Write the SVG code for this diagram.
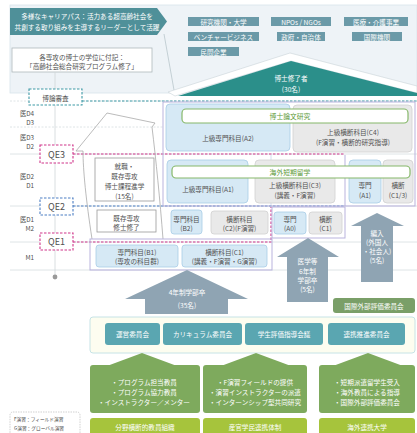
<svg xmlns="http://www.w3.org/2000/svg" width="417" height="433" viewBox="0 0 417 433">
<style>
text{font-family:"Noto Sans CJK JP","Noto Sans",sans-serif;text-anchor:middle;dominant-baseline:central;fill:#505050;font-size:6.6px}
.w{fill:#fff}
.lbl{fill:#6b9aa8}
.lb{fill:#d6e9f5;stroke:#a8cde6;stroke-width:0.8}
.gr{fill:#e9e9e9;stroke:#d0d0d0;stroke-width:0.8}
.pu{fill:none;stroke:#b9b3dd;stroke-width:1}
.pill{fill:#fff;stroke:#86b86a;stroke-width:1.2}
.pt{fill:#5e9a3a;font-size:6.8px}
.gline{stroke:#d6dde0;stroke-width:0.8;fill:none}
.uarr{fill:#8fa4b3}
.cm{fill:#5aa6b1}
.ga{fill:#7eaa5d}
.gb{fill:#a6c43c}
.lv{text-anchor:end;font-size:6.3px}
.qe{fill:#fff;stroke-width:1.1;stroke-dasharray:2.5 1.5}
.q{font-size:9px}
.leg{text-anchor:start;font-size:4.7px;fill:#444}
</style>

<g id="top-panel">
  <rect x="10" y="5" width="407" height="88" fill="#eef3f7" stroke="#d8e4ea" stroke-width="0.8"/>
  <line x1="164" y1="34" x2="174" y2="90" stroke="#b9c6cc" stroke-width="0.8"/>
</g>

<g id="banner">
  <polygon points="10,8 157,8 167,21.5 157,35 10,35" fill="#4f9099"/>
  <text class="w" x="87" y="16" font-size="6.8">多様なキャリアパス：活力ある超高齢社会を</text>
  <text class="w" x="87" y="27" font-size="6.8">共創する取り組みを主導するリーダーとして活躍</text>
</g>

<g id="careers">
  <rect class="lbl" x="188" y="17" width="71" height="9"/>
  <text class="w" x="223.5" y="21.5" font-size="6">研究機関・大学</text>
  <rect class="lbl" x="271" y="17" width="60" height="9"/>
  <text class="w" x="301" y="21.5" font-size="6">NPOs / NGOs</text>
  <rect class="lbl" x="344" y="17" width="64" height="9"/>
  <text class="w" x="376" y="21.5" font-size="6">医療・介護事業</text>
  <rect class="lbl" x="188" y="32" width="71" height="9"/>
  <text class="w" x="223.5" y="36.5" font-size="6">ベンチャービジネス</text>
  <rect class="lbl" x="277" y="32" width="48" height="9"/>
  <text class="w" x="301" y="36.5" font-size="6">政府・自治体</text>
  <rect class="lbl" x="352" y="32" width="50" height="9"/>
  <text class="w" x="377" y="36.5" font-size="6">国際機関</text>
  <rect class="lbl" x="188" y="47" width="51" height="9"/>
  <text class="w" x="213.5" y="51.5" font-size="6">民間企業</text>
</g>

<g id="roof">
  <polygon points="168,92 290,53 417,86 417,93 291,61 175,96" fill="#fff" stroke="#c9d3d8" stroke-width="0.6"/>
  <polygon points="178,96 291,61 417,93 417,96" fill="#2b8f8a"/>
  <text class="w" x="291" y="78" font-size="7">博士修了者</text>
  <text class="w" x="291" y="89" font-size="7">(30名)</text>
</g>

<g id="degree-note">
  <rect x="12" y="48" width="140" height="24" fill="#fff" stroke="#aeb8bc" stroke-width="0.8"/>
  <text x="82" y="56.5" fill="#3b7f86" font-size="7">各専攻の博士の学位に付記：</text>
  <text x="82" y="66" fill="#3b7f86" font-size="7">「高齢社会総合研究プログラム修了」</text>
</g>

<g id="grid-lines">
  <line class="gline" x1="10" y1="101" x2="417" y2="101" stroke-dasharray="2 1.5"/>
  <line class="gline" x1="10" y1="127" x2="163" y2="127" stroke-dasharray="2 1.5"/>
  <line class="gline" x1="10" y1="154" x2="417" y2="154"/>
  <line class="gline" x1="10" y1="206" x2="417" y2="206"/>
  <line class="gline" x1="10" y1="242" x2="417" y2="242"/>
  <line class="gline" x1="10" y1="270" x2="417" y2="270"/>
  <line x1="55" y1="72" x2="55" y2="277" stroke="#cfd5d8" stroke-width="0.8"/>
  <circle cx="55" cy="277" r="2.4" fill="#9a9a9a"/>
</g>

<g id="levels">
  <text class="lv" x="34" y="113">医D4</text>
  <text class="lv" x="34" y="122">D3</text>
  <text class="lv" x="34" y="137">医D3</text>
  <text class="lv" x="34" y="146">D2</text>
  <text class="lv" x="34" y="176">医D2</text>
  <text class="lv" x="34" y="185">D1</text>
  <text class="lv" x="34" y="219">医D1</text>
  <text class="lv" x="34" y="228">M2</text>
  <text class="lv" x="34" y="257">M1</text>
</g>

<g id="connectors">
  <line x1="82" y1="101" x2="417" y2="101" stroke="#3f9aa6" stroke-width="1" stroke-dasharray="2.5 1.5"/>
  <line x1="73" y1="154" x2="345" y2="154" stroke="#d0358a" stroke-width="1.1" stroke-dasharray="2.5 1.5"/>
  <line x1="73" y1="206" x2="345" y2="206" stroke="#4d7fc4" stroke-width="1.1" stroke-dasharray="2.5 1.5"/>
  <polyline points="73,242 271,242 271,207" fill="none" stroke="#d0358a" stroke-width="1.1" stroke-dasharray="2.5 1.5"/>
  <line x1="271" y1="155" x2="271" y2="205" stroke="#c9d6ec" stroke-width="0.8"/>
  <path d="M 92 239 C 86 200 83 170 83 151 L 76 151 L 107 113 L 155 123 L 152 127 C 156 160 160 200 163 239" fill="none" stroke="#a9a9a9" stroke-width="0.8"/>
</g>

<g id="review">
  <rect x="29" y="89" width="53" height="16" fill="#fff" stroke="#3f9aa6" stroke-width="1.1" stroke-dasharray="2.5 1.5"/>
  <text x="55.5" y="97.5" fill="#3f9aa6" font-size="7.5">博論審査</text>
</g>
<g id="qe3">
  <rect class="qe" x="40" y="145" width="33" height="18" stroke="#d0358a"/>
  <text class="q" x="56.5" y="154" fill="#d0358a">QE3</text>
</g>
<g id="qe2">
  <rect class="qe" x="40" y="198" width="33" height="17" stroke="#4d7fc4"/>
  <text class="q" x="56.5" y="206.5" fill="#4d7fc4">QE2</text>
</g>
<g id="qe1">
  <rect class="qe" x="40" y="233" width="33" height="17" stroke="#d0358a"/>
  <text class="q" x="56.5" y="241.5" fill="#d0358a">QE1</text>
</g>

<g id="doctoral-frame">
  <rect class="pu" x="163" y="102" width="252" height="104"/>
  <line x1="345" y1="155" x2="345" y2="206" stroke="#b9b3dd" stroke-width="1"/>
</g>

<g id="a2">
  <rect class="lb" x="166" y="104" width="124" height="47" rx="4"/>
  <text x="228" y="138">上級専門科目(A2)</text>
</g>
<g id="c4">
  <rect class="gr" x="293" y="105" width="119" height="47" rx="4"/>
  <text x="353" y="132">上級横断科目(C4)</text>
  <text x="353" y="142">(F演習・横断的研究指導)</text>
</g>
<g id="thesis">
  <rect class="pill" x="182" y="109" width="226" height="14" rx="4"/>
  <text class="pt" x="290" y="116">博士論文研究</text>
</g>

<g id="a1">
  <rect class="lb" x="167" y="160" width="81" height="43" rx="4"/>
  <text x="208" y="189">上級専門科目(A1)</text>
</g>
<g id="c3">
  <rect class="gr" x="255" y="160" width="80" height="43" rx="4"/>
  <text x="295" y="184.5">上級横断科目(C3)</text>
  <text x="295" y="194.5">(講義・F演習)</text>
</g>
<g id="transfer-a1">
  <rect class="lb" x="349" y="160" width="32" height="43" rx="4"/>
  <text x="365" y="185">専門</text>
  <text x="365" y="195">(A1)</text>
</g>
<g id="transfer-c13">
  <rect class="gr" x="383" y="160" width="30" height="43" rx="4"/>
  <text x="398" y="185">横断</text>
  <text x="398" y="195">(C1/3)</text>
</g>
<g id="abroad">
  <rect class="pill" x="172" y="166" width="238" height="12" rx="4"/>
  <text class="pt" x="290" y="172">海外短期留学</text>
</g>

<g id="employment">
  <rect x="95" y="158" width="59" height="43" fill="#fff" stroke="#9a9a9a" stroke-width="0.8"/>
  <text x="124.5" y="166">就職・</text>
  <text x="124.5" y="176">既存専攻</text>
  <text x="124.5" y="186">博士課程進学</text>
  <text x="124.5" y="195.5">(15名)</text>
</g>
<g id="master-done">
  <rect x="97" y="210" width="59" height="22" fill="#fff" stroke="#9a9a9a" stroke-width="0.8"/>
  <text x="126.5" y="217.5">既存専攻</text>
  <text x="126.5" y="227">修士修了</text>
</g>

<g id="b2">
  <rect class="lb" x="171" y="210" width="31" height="24" rx="3"/>
  <text x="186.5" y="218.5">専門科目</text>
  <text x="186.5" y="228">(B2)</text>
</g>
<g id="c2">
  <rect class="gr" x="211" y="211" width="57" height="23" rx="3"/>
  <text x="239.5" y="218.5">横断科目</text>
  <text x="239.5" y="228">(C2)(F演習)</text>
</g>

<g id="med-frame">
  <rect class="pu" x="272" y="207" width="73" height="31"/>
</g>
<g id="a0">
  <rect class="lb" x="274" y="212" width="32" height="22" rx="3"/>
  <text x="290" y="218.5">専門</text>
  <text x="290" y="228">(A0)</text>
</g>
<g id="c1-med">
  <rect class="gr" x="309" y="212" width="33" height="22" rx="3"/>
  <text x="325.5" y="218.5">横断</text>
  <text x="325.5" y="228">(C1)</text>
</g>

<g id="m1-frame">
  <rect class="pu" x="90" y="239" width="182" height="31"/>
</g>
<g id="b1">
  <rect class="lb" x="96" y="245" width="82" height="22" rx="3"/>
  <text x="137" y="251.5">専門科目(B1)</text>
  <text x="137" y="261">(専攻の科目群)</text>
</g>
<g id="c1">
  <rect class="lb" x="182" y="245" width="85" height="22" rx="3"/>
  <text x="224.5" y="251.5">横断科目(C1)</text>
  <text x="224.5" y="261">(講義・F演習・G演習)</text>
</g>

<g id="entry-4yr">
  <polygon class="uarr" points="187,270 248,299 228,299 228,314 145,314 145,299 125,299"/>
  <text class="w" x="187" y="292">4年制学部卒</text>
  <text class="w" x="187" y="305">(35名)</text>
</g>
<g id="entry-med">
  <polygon class="uarr" points="308,238 339,257 328,257 328,302 287,302 287,257 277,257"/>
  <text class="w" x="307.5" y="261">医学等</text>
  <text class="w" x="307.5" y="270.5">6年制</text>
  <text class="w" x="307.5" y="279.5">学部卒</text>
  <text class="w" x="307.5" y="289">(5名)</text>
</g>
<g id="entry-transfer">
  <polygon class="uarr" points="377,213 404,226 393,226 393,282 361,282 361,226 351,226"/>
  <text class="w" x="377" y="233">編入</text>
  <text class="w" x="377" y="242">(外国人</text>
  <text class="w" x="377" y="250.5">・社会人)</text>
  <text class="w" x="377" y="259.5">(5名)</text>
</g>

<g id="intl-eval">
  <rect x="333" y="298" width="82" height="15" rx="3" fill="#7a9f68"/>
  <text class="w" x="374" y="305.5">国際外部評価委員会</text>
</g>

<g id="committees">
  <rect x="90" y="317" width="325" height="36" rx="3" fill="#fdfdf0" stroke="#bfe0e3" stroke-width="0.9"/>
  <rect class="cm" x="105" y="323" width="55" height="22" rx="3"/>
  <text class="w" x="132.5" y="334">運営委員会</text>
  <rect class="cm" x="163" y="323" width="79" height="22" rx="3"/>
  <text class="w" x="202.5" y="334">カリキュラム委員会</text>
  <rect class="cm" x="245" y="323" width="78" height="22" rx="3"/>
  <text class="w" x="284" y="334">学生評価指導会議</text>
  <rect class="cm" x="328" y="323" width="77" height="22" rx="3"/>
  <text class="w" x="366.5" y="334">連携推進委員会</text>
</g>

<g id="faculty">
  <polygon class="ga" points="142,353 177,366 107,366"/>
  <rect class="ga" x="90" y="365" width="110" height="48" rx="3"/>
  <text class="w" x="144" y="382">・プログラム担当教員</text>
  <text class="w" x="144" y="392">・プログラム協力教員</text>
  <text class="w" x="144" y="402">・インストラクター／メンター</text>
  <rect class="gb" x="90" y="418" width="110" height="17" rx="3"/>
  <text class="w" x="145" y="427" font-size="7.5">分野横断的教員組織</text>
</g>
<g id="industry">
  <polygon class="ga" points="256,353 291,366 221,366"/>
  <rect class="ga" x="203" y="365" width="104" height="48" rx="3"/>
  <text class="w" x="255" y="382">・F演習フィールドの提供</text>
  <text class="w" x="255" y="392">・演習インストラクターの派遣</text>
  <text class="w" x="255" y="402">・インターンシップ型共同研究</text>
  <rect class="gb" x="203" y="418" width="104" height="17" rx="3"/>
  <text class="w" x="255" y="427" font-size="7.5">産官学民連携体制</text>
</g>
<g id="overseas">
  <polygon class="ga" points="368,353 403,366 333,366"/>
  <rect class="ga" x="319" y="365" width="96" height="48" rx="3"/>
  <text class="w" x="367" y="382">・短期派遣留学生受入</text>
  <text class="w" x="367" y="392">・海外教員による指導</text>
  <text class="w" x="367" y="402">・国際外部評価委員会</text>
  <rect class="gb" x="319" y="418" width="96" height="17" rx="3"/>
  <text class="w" x="367" y="427" font-size="7.5">海外連携大学</text>
</g>

<g id="legend">
  <rect x="10" y="412" width="70" height="24" rx="3" fill="#fff" stroke="#bdbdbd" stroke-width="0.7" stroke-dasharray="1.5 1"/>
  <text class="leg" x="14" y="419">F演習：フィールド演習</text>
  <text class="leg" x="14" y="427.5">G演習：グローバル演習</text>
</g>
</svg>
